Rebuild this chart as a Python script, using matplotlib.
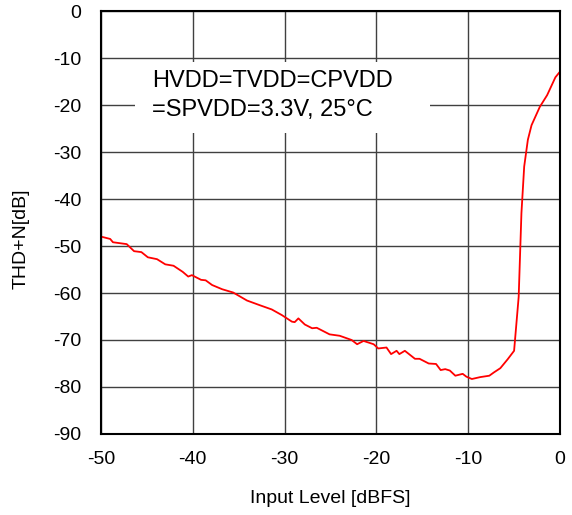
import matplotlib
matplotlib.use("Agg")
import matplotlib.pyplot as plt
from matplotlib.patches import Rectangle

plt.rcParams["font.family"] = ["Liberation Sans", "DejaVu Sans"]
plt.rcParams["axes.unicode_minus"] = False  # plain hyphen on tick labels

# ---- data ------------------------------------------------------------------
level_dbfs = [-50.0, -49.0, -48.7, -47.2, -46.4, -45.6, -44.9, -43.9, -43.0, -42.1,
              -41.1, -40.5, -40.1, -39.1, -38.6, -37.9, -36.8, -35.6, -34.1, -32.7,
              -31.4, -30.3, -29.2, -28.9, -28.5, -27.8, -27.0, -26.5, -25.1, -24.0,
              -22.7, -22.1, -21.4, -20.3, -19.8, -18.9, -18.4, -17.8, -17.5, -16.9,
              -15.8, -15.3, -14.3, -13.5, -13.0, -12.5, -12.0, -11.4, -10.6, -10.2,
              -9.6, -8.7, -7.7, -7.2, -6.5, -5.7, -5.0, -4.5, -4.2, -3.9,
              -3.5, -3.1, -2.2, -1.4, -0.5, 0.0]
thdn_db = [-48.0, -48.5, -49.2, -49.6, -51.1, -51.3, -52.4, -52.8, -53.9, -54.2,
           -55.5, -56.5, -56.2, -57.2, -57.3, -58.3, -59.2, -59.9, -61.6, -62.6,
           -63.5, -64.7, -66.1, -66.2, -65.4, -66.7, -67.5, -67.4, -68.8, -69.1,
           -70.0, -70.9, -70.2, -70.9, -71.8, -71.6, -73.0, -72.3, -73.0, -72.3,
           -74.0, -74.0, -75.0, -75.1, -76.4, -76.2, -76.5, -77.6, -77.2, -77.8,
           -78.3, -77.9, -77.6, -76.9, -76.0, -74.1, -72.3, -60.8, -43.0, -33.1,
           -27.4, -24.3, -20.4, -17.9, -14.1, -12.9]
x_ticks = [-50, -40, -30, -20, -10, 0]
y_ticks = [0, -10, -20, -30, -40, -50, -60, -70, -80, -90]
note_lines = ["HVDD=TVDD=CPVDD", "=SPVDD=3.3V, 25\u00b0C"]

# ---- plot ------------------------------------------------------------------
fig = plt.figure(figsize=(5.72, 5.15), dpi=100)
ax = fig.add_axes([0.1766, 0.1573, 0.8024, 0.8213])

ax.plot(level_dbfs, thdn_db, color="#ff0000", lw=1.3, zorder=4)

ax.set_xlim(-50, 0)
ax.set_ylim(-90, 0)
ax.set_xticks(x_ticks)
ax.set_yticks(y_ticks)
ax.tick_params(length=0, labelsize=14)
ax.tick_params(axis="y", pad=14)
ax.tick_params(axis="x", pad=12)
ax.grid(color="#404040", lw=1.0)
ax.set_axisbelow(True)
for sp in ax.spines.values():
    sp.set_linewidth(1.5)
    sp.set_color("black")
    sp.set_zorder(5)

ax.set_xlabel("Input Level [dBFS]", fontsize=14, labelpad=16)
ax.set_ylabel("THD+N[dB]", fontsize=14)
ax.yaxis.set_label_coords(-0.155, 0.461)

# white box behind the condition note
ax.add_patch(Rectangle((0.074, 0.712), 0.643, 0.167, transform=ax.transAxes,
                       facecolor="white", edgecolor="none", zorder=2))
ax.text(0.111, 0.820, note_lines[0], transform=ax.transAxes, fontsize=17,
        va="baseline", ha="left", zorder=3)
ax.text(0.111, 0.752, note_lines[1], transform=ax.transAxes, fontsize=17,
        va="baseline", ha="left", zorder=3)

fig.savefig("out.png", dpi=100)
